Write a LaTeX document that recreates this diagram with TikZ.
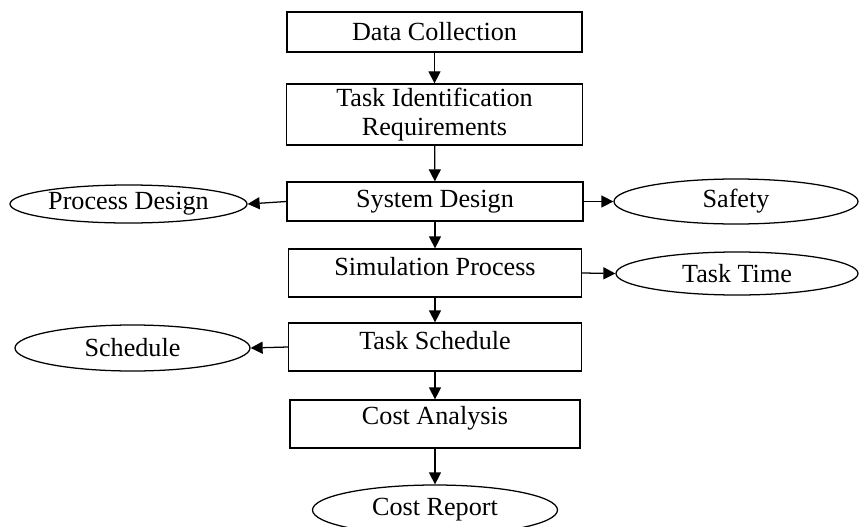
\documentclass[tikz,border=0pt]{standalone}
\usepackage{fontspec}
\setmainfont{Liberation Serif}
\usetikzlibrary{arrows.meta,shapes.geometric}
\begin{document}
\begin{tikzpicture}[x=0.025cm, y=-0.025cm,
  every node/.style={font=\fontsize{18.6}{21}\selectfont},
  box/.style={draw, line width=0.9pt, align=center, inner sep=0pt},
  oval/.style={draw, ellipse, line width=0.9pt, inner sep=0pt},
  arr/.style={line width=0.9pt, -{Triangle[length=3mm, width=3mm]}}]
\useasboundingbox (0,0) rectangle (859,526);
% main steps
\node[box, minimum width=295*0.025cm, minimum height=40*0.025cm] (dc) at (434.5,32) {Data Collection};
\node[box, minimum width=296*0.025cm, minimum height=61*0.025cm] (tir) at (434.5,114.5) {Task Identification\\Requirements};
\node[box, minimum width=296*0.025cm, minimum height=39*0.025cm] (sd) at (435,201.5) {System Design};
\node[box, minimum width=293*0.025cm, minimum height=48*0.025cm, text depth=10pt] (sp) at (435,273) {Simulation Process};
\node[box, minimum width=293*0.025cm, minimum height=48*0.025cm, text depth=10pt] (ts) at (435,347) {Task Schedule};
\node[box, minimum width=290*0.025cm, minimum height=48*0.025cm, text depth=12pt] (ca) at (435,424) {Cost Analysis};
% outputs
\node[oval, minimum width=237*0.025cm, minimum height=38*0.025cm] (pd) at (128.5,204) {Process Design};
\node[oval, minimum width=244*0.025cm, minimum height=45*0.025cm] (saf) at (736,201.5) {Safety};
\node[oval, minimum width=242*0.025cm, minimum height=43*0.025cm] (tt) at (737,273.5) {Task Time};
\node[oval, minimum width=235*0.025cm, minimum height=46*0.025cm] (sch) at (132.5,348) {Schedule};
\node[oval, minimum width=245*0.025cm, minimum height=50*0.025cm] (cr) at (435,510) {Cost Report};
% flow
\draw[arr] (dc) -- (tir);
\draw[arr] (tir) -- (sd);
\draw[arr] (sd) -- (sp);
\draw[arr] (sp) -- (ts);
\draw[arr] (ts) -- (ca);
\draw[arr] (ca) -- (cr);
% side arrows
\draw[arr] (sd.west) -- (pd.east);
\draw[arr] (sd.east) -- (saf.west);
\draw[arr] (sp.east) -- (tt.west);
\draw[arr] (ts.west) -- (sch.east);
\end{tikzpicture}
\end{document}
